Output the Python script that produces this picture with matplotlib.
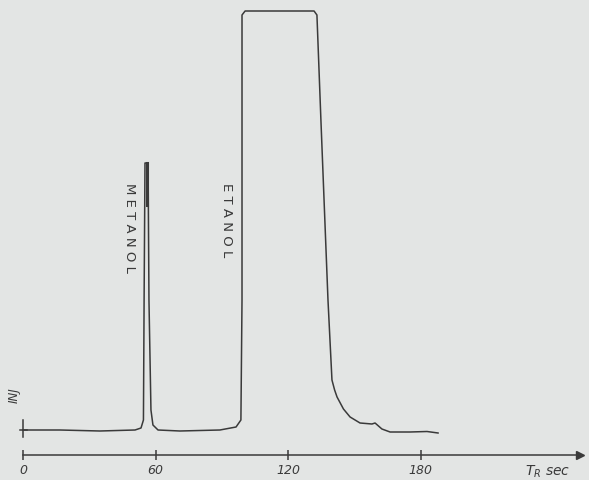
import numpy as np
import matplotlib
matplotlib.use("Agg")
import matplotlib.pyplot as plt

# chromatogram trace: retention time (s) vs detector signal (arb. units)
time_s = [0, 16.7, 34.8, 50.7, 53.4, 54.5, 54.8, 55.2, 56.6, 57.0, 57.9, 58.8, 61.1,
          71.0, 89.1, 96.4, 98.6, 99.1, 99.1, 100.5, 131.7, 133.0, 134.8, 138.0,
          139.8, 141.0, 142.1, 145.0, 148.0, 152.5, 157.9, 159.3, 162.4, 166.1,
          175.1, 182.8, 187.8]
signal = [0, 0, -1, 0, 2, 10, 130, 267, 267, 130, 20, 5, 0,
          -1, 0, 3, 10, 130, 415, 419, 419, 415, 310, 130,
          50, 40, 33, 21, 13, 7, 6, 7, 1, -2,
          -2, -1.5, -3]

tick_times = [0, 60, 120, 180]
tick_labels = ["0", "60", "120", "180"]

peak_names = ["METANOL", "ETANOL"]
peak_label_pos = [(48.4, 202), (91.9, 210)]

ink = "#3a3a3a"
paper = "#e3e5e4"


def plotDraw():
    fig = plt.figure(figsize=(5.89, 4.8), dpi=100)
    fig.patch.set_facecolor(paper)
    ax = fig.add_axes([0, 0, 1, 1])
    ax.set_facecolor(paper)

    ax.plot(time_s, signal, color=ink, lw=1.1, solid_joinstyle="round")
    # thick tip of the methanol peak
    ax.plot([56.0, 56.0], [267, 225], color=ink, lw=2.2)

    # injection mark
    ax.plot([0, 0], [-7, 10], color=ink, lw=1.1)
    ax.plot([-1.5, 2], [0, 0], color=ink, lw=1.1)
    ax.text(-4, 35, "INJ", rotation=90, ha="center", va="center",
            color=ink, fontsize=8.5, fontstyle="italic")

    for name, (tx, ty) in zip(peak_names, peak_label_pos):
        ax.text(tx, ty, " ".join(name), rotation=270, ha="center", va="center",
                color=ink, fontsize=9.5)

    # time axis with arrow
    ax.spines["bottom"].set_position(("data", -25))
    ax.spines["bottom"].set_bounds(0, 252)
    ax.spines["bottom"].set_color(ink)
    ax.spines["bottom"].set_linewidth(1.1)
    for s in ["top", "left", "right"]:
        ax.spines[s].set_visible(False)
    ax.plot([252], [-25], marker=">", color=ink, markersize=6, clip_on=False)

    ax.set_xticks(tick_times)
    ax.set_xticklabels(tick_labels, fontstyle="italic", fontsize=9, color=ink)
    ax.tick_params(axis="x", direction="inout", length=7, width=1.1, color=ink, pad=3)
    ax.set_yticks([])
    ax.text(227, -42, r"$T_R$ sec", fontsize=10, fontstyle="italic", color=ink,
            ha="left", va="center")

    ax.set_xlim(-10.4, 256.1)
    ax.set_ylim(-50, 430)

    fig.savefig("out.png", dpi=100, facecolor=paper)


if __name__ == "__main__":
    plotDraw()
